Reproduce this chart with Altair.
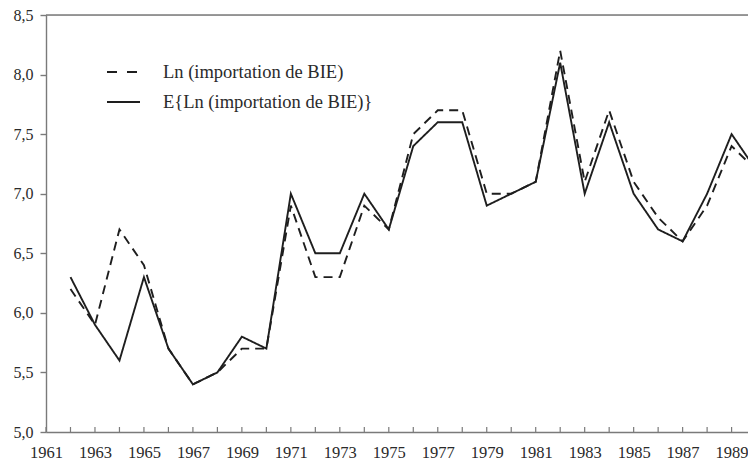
import altair as alt
import pandas as pd

years = list(range(1962, 1991))
ln_import = [6.2, 5.9, 6.7, 6.4, 5.7, 5.4, 5.5, 5.7, 5.7, 6.9, 6.3, 6.3, 6.9, 6.7,
             7.5, 7.7, 7.7, 7.0, 7.0, 7.1, 8.2, 7.1, 7.7, 7.1, 6.8, 6.6, 6.9, 7.4, 7.2]
e_ln_import = [6.3, 5.9, 5.6, 6.3, 5.7, 5.4, 5.5, 5.8, 5.7, 7.0, 6.5, 6.5, 7.0, 6.7,
               7.4, 7.6, 7.6, 6.9, 7.0, 7.1, 8.1, 7.0, 7.6, 7.0, 6.7, 6.6, 7.0, 7.5, 7.2]
series_names = ["Ln (importation de BIE)", "E{Ln (importation de BIE)}"]
x_tick_years = list(range(1961, 1990, 2))
minor_tick_years = list(range(1961, 1990))
y_ticks = [5.0, 5.5, 6.0, 6.5, 7.0, 7.5, 8.0, 8.5]

FONT = "'Times New Roman', 'Liberation Serif', 'DejaVu Serif', serif"
INK = "#1e1e1e"
TEXT = "#2a2a2a"
AXIS_GRAY = "#7a7a7a"

rows = []
for y, a, b in zip(years, ln_import, e_ln_import):
    rows.append({"year": y, "value": a, "series": series_names[0]})
    rows.append({"year": y, "value": b, "series": series_names[1]})
df = pd.DataFrame(rows)

xscale = alt.Scale(domain=[1961, 1989.67], nice=False, zero=False)
yscale = alt.Scale(domain=[5.0, 8.5], nice=False, zero=False)

lines = alt.Chart(df).mark_line(strokeWidth=1.9, color=INK, clip=True).encode(
    x=alt.X("year:Q", scale=xscale,
            axis=alt.Axis(values=x_tick_years, format="d", title=None, grid=False,
                          tickSize=0, labelPadding=12, labelFontSize=16.5, labelFont=FONT,
                          labelColor=TEXT, domainColor=AXIS_GRAY, domainWidth=1.4,
                          labelFlush=False)),
    y=alt.Y("value:Q", scale=yscale,
            axis=alt.Axis(values=y_ticks, title=None, grid=False, tickSize=6,
                          tickColor=AXIS_GRAY, tickWidth=1.4,
                          labelExpr="replace(format(datum.value, '.1f'), '.', ',')",
                          labelPadding=7, labelFontSize=16, labelFont=FONT,
                          labelColor=TEXT, domainColor=AXIS_GRAY, domainWidth=1.4,
                          labelFlush=False)),
    strokeDash=alt.StrokeDash("series:N",
                              scale=alt.Scale(domain=series_names, range=[[9, 6], [1, 0]]),
                              legend=None),
    detail="series:N",
)

ticks_df = pd.DataFrame({"year": minor_tick_years, "lo": [5.0] * len(minor_tick_years),
                         "hi": [5.042] * len(minor_tick_years)})
minor_ticks = alt.Chart(ticks_df).mark_rule(color=AXIS_GRAY, strokeWidth=1.2).encode(
    x=alt.X("year:Q", scale=xscale), y=alt.Y("lo:Q", scale=yscale), y2="hi:Q")

top_line = alt.Chart(pd.DataFrame({"v": [8.5]})).mark_rule(
    color=AXIS_GRAY, strokeWidth=1.4).encode(y=alt.Y("v:Q", scale=yscale))

leg_df = pd.DataFrame({"label": series_names, "ypix": [57, 87]})
leg_dash = alt.Chart(leg_df.iloc[[0]]).mark_rule(
    color=INK, strokeWidth=1.9, strokeDash=[10, 10]).encode(
    x=alt.value(61), x2=alt.value(91), y=alt.value(57))
leg_solid = alt.Chart(leg_df.iloc[[1]]).mark_rule(
    color=INK, strokeWidth=1.9).encode(
    x=alt.value(61), x2=alt.value(94), y=alt.value(87))
leg_text = alt.Chart(leg_df).mark_text(
    align="left", baseline="middle", font=FONT, fontSize=18.5, color=TEXT).encode(
    x=alt.value(117), y=alt.Y("ypix:Q", scale=None), text="label:N")

chart = alt.layer(top_line, minor_ticks, lines, leg_dash, leg_solid, leg_text).properties(
    width=702, height=417,
    autosize=alt.AutoSizeParams(type="none"),
    padding={"left": 38, "top": 7, "right": 0, "bottom": 33},
).configure_view(stroke=None).configure(background="white")

chart.save("out.html", embed_options={"renderer": "svg", "actions": False})
